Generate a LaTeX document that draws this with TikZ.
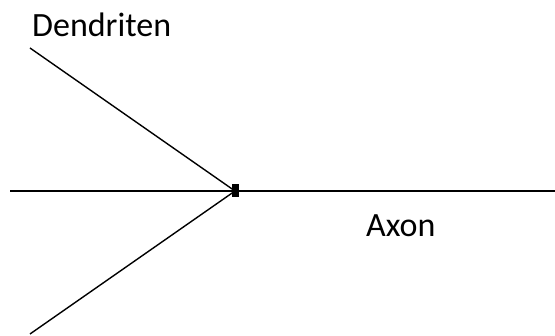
\documentclass[tikz,border=0pt]{standalone}
\usepackage{fontspec}
\setmainfont{Carlito}
\begin{document}
\begin{tikzpicture}[x=1pt,y=-1pt,
  dend/.style={line width=1.4pt,black},
  axonline/.style={line width=2.4pt,black},
  lbl/.style={font=\fontsize{34}{40}\selectfont,inner sep=0pt,anchor=base west}]
\useasboundingbox (0,0) rectangle (555,336);
\coordinate (soma) at (235,191);
\coordinate (d1) at (30,48);
\coordinate (d2) at (10,191);
\coordinate (d3) at (30,334);
\coordinate (aend) at (555,191);
\draw[dend] (d1) -- (soma);
\draw[dend] (d2) -- (soma);
\draw[dend] (d3) -- (soma);
\draw[axonline] (soma) -- (aend);
\node[fill=black,minimum width=7pt,minimum height=13pt,inner sep=0pt] (body) at (soma) {};
\node[lbl] (dtext) at (32,37) {Dendriten};
\node[lbl] (atext) at (366,237) {Axon};
\end{tikzpicture}
\end{document}
